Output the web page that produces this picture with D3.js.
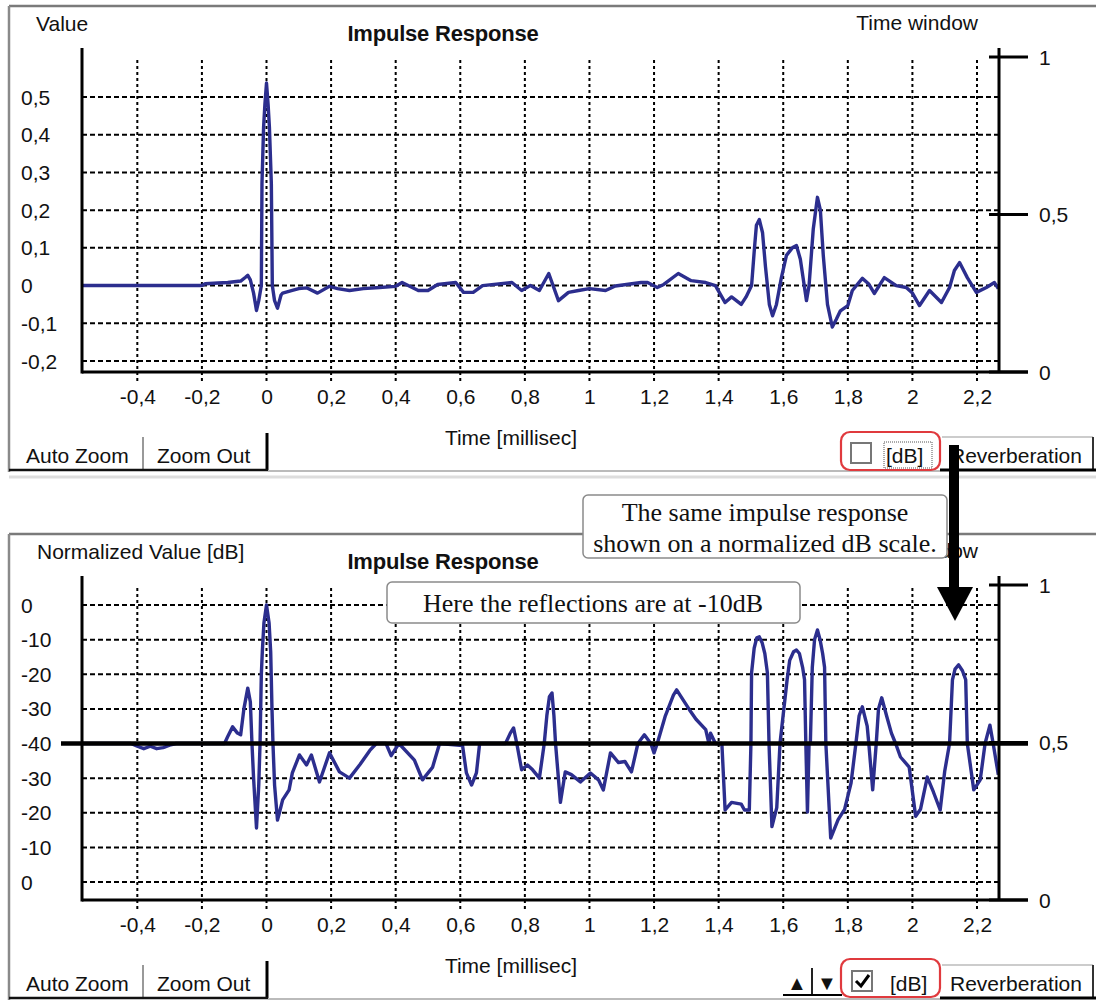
<!DOCTYPE html>
<html>
<head>
<meta charset="utf-8">
<script src="https://cdn.jsdelivr.net/npm/d3@7"></script>
<style>
  body { margin: 0; background: #fff; }
  svg { display: block; }
  .ui { font-family: "Liberation Sans", Arial, sans-serif; font-size: 21px; fill: #111; }
  .serif { font-family: "Liberation Serif", "Times New Roman", serif; font-size: 26px; fill: #111; }
</style>
</head>
<body>
<svg id="chart" width="1096" height="1000"></svg>
<script>
// ---- Axis ticks and labels ----
const xTicks = [-0.4, -0.2, 0, 0.2, 0.4, 0.6, 0.8, 1, 1.2, 1.4, 1.6, 1.8, 2, 2.2];
const xTickLabels = ["-0,4", "-0,2", "0", "0,2", "0,4", "0,6", "0,8", "1", "1,2", "1,4", "1,6", "1,8", "2", "2,2"];
const linTicks = [0.5, 0.4, 0.3, 0.2, 0.1, 0, -0.1, -0.2];
const linTickLabels = ["0,5", "0,4", "0,3", "0,2", "0,1", "0", "-0,1", "-0,2"];
// dB panel: mirrored level scale, centre = -40 dB floor, both edges = 0 dB
const dbTicks = [40, 30, 20, 10, 0, -10, -20, -30, -40];
const dbTickLabels = ["0", "-10", "-20", "-30", "-40", "-30", "-20", "-10", "0"];
const windowTicks = [1, 0.5, 0];
const windowTickLabels = ["1", "0,5", "0"];

// ---- Impulse response, linear amplitude (time in ms) ----
const linTime = [-0.573, -0.2, -0.19, -0.15, -0.12, -0.1, -0.08, -0.065, -0.058, -0.05, -0.04, -0.031, -0.024, -0.016, -0.014, -0.009, -0.005, 0,
  0.005, 0.009, 0.015, 0.018, 0.025, 0.034, 0.045, 0.05, 0.08, 0.1, 0.124, 0.158, 0.195, 0.22, 0.257, 0.3, 0.35, 0.4, 0.42, 0.47, 0.5, 0.53,
  0.586, 0.61, 0.64, 0.669, 0.76, 0.79, 0.817, 0.845, 0.874, 0.904, 0.935, 0.966, 1.0, 1.05, 1.08, 1.16, 1.18, 1.21, 1.23, 1.275, 1.315, 1.36,
  1.39, 1.42, 1.44, 1.47, 1.485, 1.502, 1.511, 1.517, 1.526, 1.536, 1.545, 1.557, 1.567, 1.579, 1.594, 1.61, 1.628, 1.641, 1.653, 1.665, 1.672,
  1.68, 1.693, 1.706, 1.715, 1.724, 1.737, 1.752, 1.764, 1.777, 1.8, 1.814, 1.845, 1.864, 1.882, 1.913, 1.95, 1.981, 2.0, 2.022, 2.053, 2.09,
  2.115, 2.13, 2.146, 2.17, 2.198, 2.229, 2.254, 2.266];
const linValue = [0, 0, 0.005, 0.007, 0.008, 0.01, 0.012, 0.022, 0.027, 0.015, -0.02, -0.066, -0.04, 0.0, 0.27, 0.42, 0.48, 0.537,
  0.48, 0.42, 0.27, 0.0, -0.04, -0.06, -0.025, -0.02, -0.013, -0.008, -0.006, -0.02, -0.002, -0.008, -0.013, -0.008, -0.005, -0.002, 0.008, -0.013, -0.013, 0.003,
  0.008, -0.018, -0.018, 0.0, 0.008, -0.013, 0.0, -0.013, 0.032, -0.04, -0.018, -0.013, -0.008, -0.013, -0.001, 0.008, 0.008, -0.005, 0.003, 0.032, 0.013, 0.008,
  0.0, -0.045, -0.03, -0.05, -0.03, 0.0, 0.1, 0.16, 0.175, 0.14, 0.05, -0.05, -0.08, -0.05, 0.02, 0.08, 0.1, 0.106, 0.07, 0.0, -0.04,
  0.0, 0.15, 0.234, 0.2, 0.08, -0.05, -0.11, -0.09, -0.067, -0.053, -0.013, 0.019, 0.005, -0.021, 0.021, 0.0, -0.005, -0.02, -0.053, -0.013, -0.045,
  -0.005, 0.04, 0.061, 0.021, -0.018, -0.005, 0.008, -0.008];

// ---- Same response on the mirrored dB scale ----
const dbTime = [-0.573, -0.42, -0.4, -0.38, -0.36, -0.34, -0.32, -0.3, -0.28, -0.13, -0.12, -0.105, -0.09, -0.08, -0.07, -0.058, -0.05, -0.045, -0.04,
  -0.031, -0.024, -0.02, -0.016, -0.013, -0.008, 0, 0.008, 0.013, 0.017, 0.02, 0.025, 0.034, 0.04, 0.05, 0.07, 0.08, 0.102, 0.124, 0.139, 0.164,
  0.195, 0.226, 0.257, 0.29, 0.32, 0.34, 0.37, 0.386, 0.41, 0.458, 0.483, 0.514, 0.536, 0.607, 0.619, 0.635, 0.65, 0.66, 0.74, 0.755, 0.765, 0.775,
  0.79, 0.808, 0.824, 0.845, 0.86, 0.868, 0.876, 0.884, 0.89, 0.895, 0.91, 0.925, 0.944, 0.972, 1.003, 1.028, 1.043, 1.065, 1.09, 1.11, 1.13, 1.15, 1.17,
  1.19, 1.2, 1.21, 1.235, 1.26, 1.27, 1.31, 1.33, 1.36, 1.37, 1.375, 1.39, 1.41, 1.42, 1.44, 1.47, 1.48, 1.495,
  1.5, 1.502, 1.51, 1.518, 1.526, 1.535, 1.543, 1.551, 1.556, 1.565, 1.58,
  1.59, 1.612, 1.62, 1.632, 1.641, 1.65, 1.66, 1.666, 1.67, 1.675, 1.68,
  1.684, 1.69, 1.697, 1.706, 1.714, 1.722, 1.728, 1.732, 1.747, 1.77, 1.79, 1.81, 1.825, 1.835, 1.845, 1.86,
  1.865, 1.877, 1.888, 1.895, 1.905, 1.92, 1.935, 1.948, 1.963, 1.99, 2.01, 2.025, 2.046, 2.065, 2.086, 2.1,
  2.115, 2.124, 2.132, 2.143, 2.155, 2.165, 2.17,
  2.19, 2.21, 2.225, 2.24, 2.25, 2.266];
const dbValue = [0, 0, -0.8, -1.5, -0.8, -1.5, -1.2, -0.5, 0, 0, 2, 4.8, 3, 2.5, 10, 16, 12, 0, -10,
  -24.4, -12, 0, 20, 26.4, 34.8, 40, 34.8, 26.4, 10, 0, -12, -22.1, -20, -16.3, -13.4, -8.5, -3.3, -6.2, -3.3, -11.1,
  -2.7, -8.2, -10, -6, -2, 0, 0, -3.5, 0, -4.8, -10.5, -6.9, 0, -0.6, -8.5, -12, -8.5, 0, 0, 3, 4.5, 0,
  -7.6, -6.2, -7.6, -10, 0, 8, 13.5, 14.6, 8, 0, -17, -8.2, -9, -11.1, -8.5, -10.5, -13.4, -2.7, -5.5, -5.2, -8.2, 0, 2.5,
  0, -2.7, 0, 8, 14, 15.5, 9.7, 7, 4, 0, 3, 0, 0, -19.2, -17, -17.5, -19.2, -19.2,
  0, 20.4, 27.5, 30.5, 30.8, 29, 26, 20.4, 0, -24, -18.5,
  0, 18.4, 24, 26.5, 27, 26, 22, 18.4, 0, -19.8, 0,
  0, 22, 30, 32.8, 30, 26, 22, 0, -27.3, -22, -19, -11.4, 0, 8, 10.6, 5,
  0, -13.4, 0, 10, 13.2, 8, 3, 0, -3.9, -6.8, -21, -19, -9.7, -14, -19.2, -8,
  0, 18.4, 21.5, 22.7, 21, 18.4, 0,
  -13.4, -10.5, 0, 5.3, 0, -9];

// ---- Shared geometry (panel-local coordinates) ----
const plot = { left: 82, right: 999, top: 48, gridTop: 60, bottom: 372, axisEnd: 1028 };
const traceColor = "#2c2e8e";
const svg = d3.select("#chart");

const x = d3.scaleLinear().domain([0, 2.2]).range([266.5, 977]);
const win = d3.scaleLinear().domain([0, 1]).range([plot.bottom, 57]);

function drawPanel(offsetY, cfg) {
  const g = svg.append("g").attr("transform", `translate(0,${offsetY})`);
  const y = cfg.y;

  // window frame
  g.append("line").attr("x1", 9).attr("x2", 1096).attr("y1", 6).attr("y2", 6)
    .attr("stroke", "#7a7a7a").attr("stroke-width", 2.5);
  g.append("line").attr("x1", 9).attr("x2", 9).attr("y1", 6).attr("y2", 472)
    .attr("stroke", "#8a8a8a").attr("stroke-width", 2.5);

  // header texts
  g.append("text").attr("class", "ui").attr("x", cfg.yTitleX).attr("y", 23)
    .attr("dominant-baseline", "central").text(cfg.yTitle);
  g.append("text").attr("class", "ui").attr("x", 443).attr("y", 33)
    .attr("dominant-baseline", "central").attr("text-anchor", "middle")
    .style("font-weight", "bold").style("font-size", "22px").style("letter-spacing", "-0.2px")
    .text("Impulse Response");
  g.append("text").attr("class", "ui").attr("x", 978).attr("y", 22)
    .attr("dominant-baseline", "central").attr("text-anchor", "end").text("Time window");

  // grid
  const grid = g.append("g").attr("stroke", "#000").attr("stroke-width", 2);
  grid.selectAll("line.h").data(cfg.yTicks).join("line").attr("class", "h")
    .attr("x1", plot.left).attr("x2", plot.right)
    .attr("y1", d => y(d)).attr("y2", d => y(d))
    .attr("stroke-dasharray", "5,3");
  grid.selectAll("line.v").data(xTicks).join("line").attr("class", "v")
    .attr("x1", d => x(d)).attr("x2", d => x(d))
    .attr("y1", plot.gridTop).attr("y2", plot.bottom + 11)
    .attr("stroke-dasharray", "3,3");

  // y tick labels (left aligned)
  g.append("g").selectAll("text").data(cfg.yTicks).join("text")
    .attr("class", "ui").attr("x", 21).attr("y", d => y(d))
    .attr("dominant-baseline", "central")
    .text((d, i) => cfg.yLabels[i]);

  // x axis labels via d3 axis
  const xAxis = g.append("g").attr("transform", `translate(0,${plot.bottom})`)
    .call(d3.axisBottom(x).tickValues(xTicks).tickFormat((d, i) => xTickLabels[i]).tickSize(0).tickPadding(17));
  xAxis.select(".domain").remove();
  xAxis.selectAll("text").attr("class", "ui").attr("fill", "#111")
    .style("font-family", "'Liberation Sans', Arial, sans-serif").style("font-size", "21px");

  g.append("text").attr("class", "ui").attr("x", 511).attr("y", 437)
    .attr("dominant-baseline", "central").attr("text-anchor", "middle").text("Time [millisec]");

  // trace
  const pts = cfg.time.map((t, i) => [t, cfg.value[i]]);
  g.append("path").datum(pts)
    .attr("d", d3.line().x(d => x(d[0])).y(d => y(d[1])))
    .attr("fill", "none").attr("stroke", traceColor).attr("stroke-width", 3.4)
    .attr("stroke-linejoin", "round");

  if (cfg.floorLine) {
    g.append("line").attr("x1", 61).attr("x2", plot.axisEnd)
      .attr("y1", y(0)).attr("y2", y(0)).attr("stroke", "#000").attr("stroke-width", 4.5);
  }

  // frame axes
  const ax = g.append("g").attr("stroke", "#000").attr("stroke-width", 3);
  ax.append("line").attr("x1", plot.left).attr("x2", plot.left).attr("y1", plot.top).attr("y2", plot.bottom + 1.5);
  ax.append("line").attr("x1", plot.right).attr("x2", plot.right).attr("y1", plot.top).attr("y2", plot.bottom);
  ax.append("line").attr("x1", plot.left).attr("x2", plot.axisEnd).attr("y1", plot.bottom).attr("y2", plot.bottom);
  ax.selectAll("line.wt").data(windowTicks).join("line").attr("class", "wt")
    .attr("x1", 989).attr("x2", plot.axisEnd).attr("y1", d => win(d)).attr("y2", d => win(d));
  g.append("g").selectAll("text").data(windowTicks).join("text")
    .attr("class", "ui").attr("x", 1039).attr("y", d => win(d))
    .attr("dominant-baseline", "central").text((d, i) => windowTickLabels[i]);

  // bottom toolbar: zoom buttons
  g.append("line").attr("x1", 143).attr("x2", 143).attr("y1", 437).attr("y2", 470).attr("stroke", "#999").attr("stroke-width", 2);
  g.append("line").attr("x1", 267).attr("x2", 267).attr("y1", 433).attr("y2", 471).attr("stroke", "#000").attr("stroke-width", 3);
  g.append("line").attr("x1", 9).attr("x2", 268).attr("y1", 470).attr("y2", 470).attr("stroke", "#111").attr("stroke-width", 2.5);
  g.append("line").attr("x1", 268).attr("x2", 940).attr("y1", 471).attr("y2", 471).attr("stroke", "#bbb").attr("stroke-width", 2);
  g.append("text").attr("class", "ui").attr("x", 26).attr("y", 455).attr("dominant-baseline", "central").text("Auto Zoom");
  g.append("text").attr("class", "ui").attr("x", 157).attr("y", 455).attr("dominant-baseline", "central").text("Zoom Out");

  // reverberation tab
  g.append("line").attr("x1", 942).attr("x2", 1093).attr("y1", 437).attr("y2", 437).attr("stroke", "#ccc").attr("stroke-width", 2);
  g.append("line").attr("x1", 1093).attr("x2", 1093).attr("y1", 437).attr("y2", 471).attr("stroke", "#333").attr("stroke-width", 2);
  g.append("line").attr("x1", 940).attr("x2", 1096).attr("y1", 470).attr("y2", 470).attr("stroke", "#000").attr("stroke-width", 3);
  g.append("text").attr("class", "ui").attr("x", 950).attr("y", 455).attr("dominant-baseline", "central").text("Reverberation");

  // [dB] checkbox
  const cbX = cfg.checked ? 852 : 851;
  g.append("rect").attr("x", cbX).attr("y", 443).attr("width", 20).attr("height", 20)
    .attr("fill", "#fff").attr("stroke", "#777").attr("stroke-width", 2);
  if (cfg.checked) {
    g.append("path").attr("d", `M${cbX + 4},453 L${cbX + 9},458 L${cbX + 17},447`)
      .attr("fill", "none").attr("stroke", "#000").attr("stroke-width", 3);
  } else {
    g.append("rect").attr("x", 884).attr("y", 442).attr("width", 48).attr("height", 26)
      .attr("fill", "none").attr("stroke", "#555").attr("stroke-width", 1).attr("stroke-dasharray", "1,1");
  }
  g.append("text").attr("class", "ui").attr("x", cfg.checked ? 890 : 886).attr("y", 455)
    .attr("dominant-baseline", "central").text("[dB]");
  g.append("rect").attr("x", 841).attr("y", cfg.checked ? 431 : 432).attr("width", 99).attr("height", 38).attr("rx", 9)
    .attr("fill", "none").attr("stroke", "#e03a3e").attr("stroke-width", 2.2);

  if (cfg.arrows) {
    g.append("text").attr("class", "ui").attr("x", 797).attr("y", 455).attr("text-anchor", "middle")
      .attr("dominant-baseline", "central").style("font-size", "20px").text("▲");
    g.append("line").attr("x1", 812).attr("x2", 812).attr("y1", 440).attr("y2", 467).attr("stroke", "#222").attr("stroke-width", 2);
    g.append("text").attr("class", "ui").attr("x", 827).attr("y", 455).attr("text-anchor", "middle")
      .attr("dominant-baseline", "central").style("font-size", "20px").text("▼");
    g.append("line").attr("x1", 783).attr("x2", 842).attr("y1", 467).attr("y2", 467).attr("stroke", "#000").attr("stroke-width", 2);
  }
  return g;
}

// linear panel
drawPanel(0, {
  y: d3.scaleLinear().domain([-0.2, 0.5]).range([361, 97]),
  yTicks: linTicks, yLabels: linTickLabels,
  yTitle: "Value", yTitleX: 36,
  time: linTime, value: linValue,
  floorLine: false, checked: false, arrows: false
});
// separator strip between windows
svg.append("line").attr("x1", 9).attr("x2", 1096).attr("y1", 477).attr("y2", 477).attr("stroke", "#ddd").attr("stroke-width", 3);

// dB panel
drawPanel(528, {
  y: d3.scaleLinear().domain([-40, 40]).range([354, 77]),
  yTicks: dbTicks, yLabels: dbTickLabels,
  yTitle: "Normalized Value [dB]", yTitleX: 37,
  time: dbTime, value: dbValue,
  floorLine: true, checked: true, arrows: true
});

// callouts
function callout(x0, y0, w, h, lines, cx, ys) {
  svg.append("rect").attr("x", x0).attr("y", y0).attr("width", w).attr("height", h).attr("rx", 5)
    .attr("fill", "#fff").attr("stroke", "#8a8a8a").attr("stroke-width", 1.5);
  lines.forEach((t, i) => {
    svg.append("text").attr("class", "serif").attr("x", cx).attr("y", ys[i])
      .attr("text-anchor", "middle").attr("dominant-baseline", "central").text(t);
  });
}
callout(583, 495, 364, 63, ["The same impulse response", "shown on a normalized dB scale."], 765, [512, 543]);
callout(387, 582, 413, 41, ["Here the reflections are at -10dB"], 593, [603]);

// arrow linking the two views
svg.append("rect").attr("x", 949).attr("y", 445).attr("width", 10).attr("height", 146).attr("fill", "#000");
svg.append("path").attr("d", "M937,587 L973,587 L955,621 Z").attr("fill", "#000");
</script>
</body>
</html>
